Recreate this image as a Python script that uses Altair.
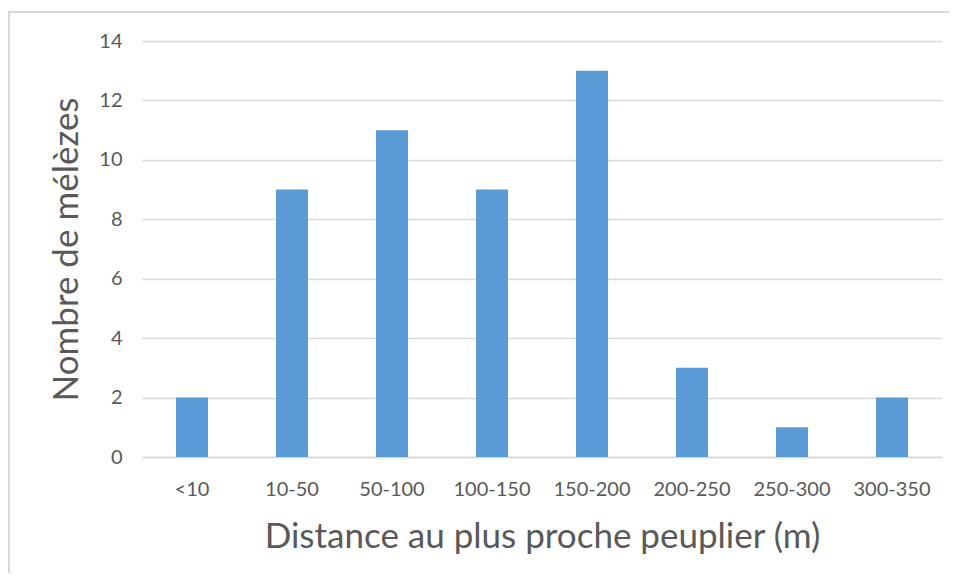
import altair as alt
import pandas as pd

categories = ["<10", "10-50", "50-100", "100-150", "150-200", "200-250", "250-300", "300-350"]
counts = [2, 9, 11, 9, 13, 3, 1, 2]

df = pd.DataFrame({"cat": categories, "n": counts})

FONT = "Lato"
GRAY = "#595959"
GRID = "#D9D9D9"

bars = alt.Chart(df).mark_bar(color="#5B9BD5", size=32).encode(
    x=alt.X("cat:N", sort=categories,
            scale=alt.Scale(paddingInner=0, paddingOuter=0),
            axis=alt.Axis(title="Distance au plus proche peuplier (m)", labelAngle=0,
                          labelFont=FONT, labelFontSize=20, labelColor=GRAY, labelPadding=22,
                          titleFont=FONT, titleFontSize=35, titleColor=GRAY, titleFontWeight="normal",
                          titlePadding=20, ticks=False, domainColor=GRID, domainWidth=1.5, grid=False)),
    y=alt.Y("n:Q", scale=alt.Scale(domain=[0, 14]),
            axis=alt.Axis(title="Nombre de mélèzes", values=[0, 2, 4, 6, 8, 10, 12, 14],
                          labelFont=FONT, labelFontSize=20, labelColor=GRAY, labelPadding=20,
                          titleFont=FONT, titleFontSize=35, titleColor=GRAY, titleFontWeight="normal",
                          titlePadding=14, ticks=False, domain=False, gridColor=GRID, gridWidth=1.5)),
)

frame = alt.Chart(df).mark_rect(fill=None, stroke=GRID, strokeWidth=2, clip=False).encode(
    x=alt.value(-133), x2=alt.value(900), y=alt.value(-29), y2=alt.value(700)
)

chart = alt.layer(frame, bars).properties(
    width=800, height=416,
    padding={"left": 134, "top": 33, "right": 7, "bottom": 116},
    autosize=alt.AutoSizeParams(type="none"),
).configure_view(stroke=None)

chart.save("out.html", embed_options={"renderer": "svg", "actions": False})
